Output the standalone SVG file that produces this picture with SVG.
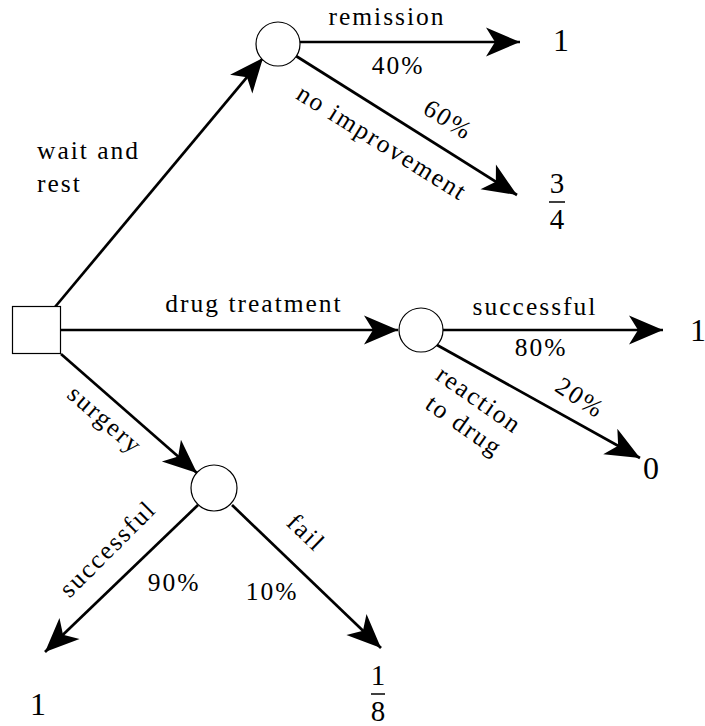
<svg xmlns="http://www.w3.org/2000/svg" width="705" height="726" viewBox="0 0 705 726">
<style>
text{font-family:'Liberation Serif','Times New Roman',serif;fill:#000}
.lbl{font-size:25.5px;letter-spacing:2px}
.num{font-size:32px}
.frac{font-size:29px}
.edge{stroke:#000;stroke-width:2.7;fill:none;marker-end:url(#ah)}
.node{fill:#fff;stroke:#000;stroke-width:1.2}
.bar{stroke:#000;stroke-width:1.5}
</style>
<defs>
<marker id="ah" markerUnits="userSpaceOnUse" markerWidth="38" markerHeight="34" viewBox="-35 -17 37 34" refX="0" refY="0" orient="auto">
<path d="M0,0 L-34,-14.5 L-25,0 L-34,14.5 Z" fill="#000"/>
</marker>
</defs>
<rect width="705" height="726" fill="#fff"/>
<g id="connectors">
<line class="edge" x1="55" y1="307" x2="263" y2="58"/>
<line class="edge" x1="61" y1="330" x2="398" y2="330"/>
<line class="edge" x1="61" y1="354" x2="197" y2="473"/>
<line class="edge" x1="300" y1="42" x2="520" y2="42"/>
<line class="edge" x1="296" y1="56" x2="517" y2="195"/>
<line class="edge" x1="443" y1="330" x2="663" y2="330"/>
<line class="edge" x1="437" y1="345" x2="640" y2="458"/>
<line class="edge" x1="198" y1="505" x2="45" y2="652"/>
<line class="edge" x1="232" y1="505" x2="381" y2="648"/>
</g>
<g id="decision"><rect class="node" x="12.5" y="306.5" width="48" height="47"/></g>
<g id="chance-wait"><circle class="node" cx="278" cy="44" r="22"/></g>
<g id="chance-drug"><circle class="node" cx="421" cy="330" r="22"/></g>
<g id="chance-surgery"><circle class="node" cx="214" cy="488" r="23"/></g>
<g id="labels">
<text class="lbl" x="37" y="159">wait and</text>
<text class="lbl" x="37" y="192">rest</text>
<text class="lbl" x="387" y="25" text-anchor="middle">remission</text>
<text class="lbl" x="398" y="74" text-anchor="middle">40%</text>
<text class="lbl" transform="translate(448,120) rotate(32)" text-anchor="middle" y="8">60%</text>
<text class="lbl" transform="translate(382,143) rotate(32)" text-anchor="middle" y="8">no improvement</text>
<text class="lbl" x="254" y="312" text-anchor="middle">drug treatment</text>
<text class="lbl" x="535" y="315" text-anchor="middle">successful</text>
<text class="lbl" x="541" y="356" text-anchor="middle">80%</text>
<text class="lbl" transform="translate(580,398) rotate(33)" text-anchor="middle" y="8">20%</text>
<text class="lbl" transform="translate(479,400) rotate(35)" text-anchor="middle" y="8">reaction</text>
<text class="lbl" transform="translate(464,426) rotate(35)" text-anchor="middle" y="8">to drug</text>
<text class="lbl" transform="translate(105,420) rotate(41)" text-anchor="middle" y="8">surgery</text>
<text class="lbl" transform="translate(108,549) rotate(-45)" text-anchor="middle" y="8">successful</text>
<text class="lbl" x="174" y="591" text-anchor="middle">90%</text>
<text class="lbl" transform="translate(306,533) rotate(44)" text-anchor="middle" y="8">fail</text>
<text class="lbl" x="272" y="600" text-anchor="middle">10%</text>
</g>
<g id="outcomes">
<text class="num" x="561" y="51" text-anchor="middle">1</text>
<text class="frac" x="557" y="193" text-anchor="middle">3</text>
<line class="bar" x1="549" y1="202" x2="565" y2="202"/>
<text class="frac" x="557" y="229" text-anchor="middle">4</text>
<text class="num" x="698" y="341" text-anchor="middle">1</text>
<text class="num" x="651" y="479" text-anchor="middle">0</text>
<text class="num" x="38" y="715" text-anchor="middle">1</text>
<text class="frac" x="378" y="685" text-anchor="middle">1</text>
<line class="bar" x1="371" y1="694" x2="385" y2="694"/>
<text class="frac" x="378" y="721" text-anchor="middle">8</text>
</g>
</svg>
